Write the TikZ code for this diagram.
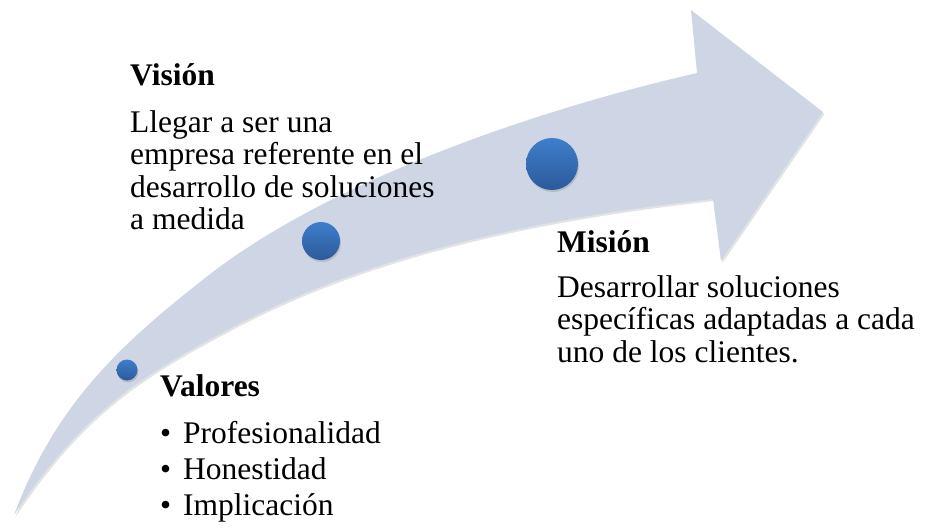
\documentclass[tikz,border=0pt]{standalone}
\usepackage{fontspec}
\setmainfont{Liberation Serif}
\usetikzlibrary{shadows}
\definecolor{bandfill}{RGB}{206,214,230}
\definecolor{dottop}{RGB}{62,126,203}
\definecolor{dotbot}{RGB}{44,90,154}
\begin{document}
\begin{tikzpicture}[x=1pt,y=-1pt,
  txt/.style={anchor=base west, inner sep=0pt, font=\fontsize{31.5}{33}\selectfont},
  ttl/.style={anchor=base west, inner sep=0pt, font=\fontsize{31.5}{33}\selectfont\bfseries},
  dot/.style={circle, inner sep=0pt, draw=none, top color=dottop, bottom color=dotbot,
    drop shadow={shadow xshift=1pt, shadow yshift=-2pt, opacity=0.3}},
  band/.style={fill=bandfill, drop shadow={shadow xshift=1.5pt, shadow yshift=-2pt, opacity=0.22}}]
\useasboundingbox (0,0) rectangle (926,530);

% curved arrow
\fill[band] (14,515) .. controls (55,405) and (120,345) .. (200,282)
  .. controls (320,184.8) and (527,112) .. (697,73)
  -- (691,10) -- (823,112) -- (721,261) -- (713,199)
  .. controls (543,217.7) and (373,252.8) .. (233,327)
  .. controls (143,374.7) and (84,410) .. (14,515) -- cycle;

% dots
\node[dot, minimum size=21] (d1) at (127,370) {};
\node[dot, minimum size=38] (d2) at (321,241) {};
\node[dot, minimum size=52] (d3) at (552,164) {};

% Vision
\node[ttl] (vt) at (130,85) {Visión};
\node[txt] (v1) at (130,132) {Llegar a ser una};
\node[txt] (v2) at (130,164.5) {empresa referente en el};
\node[txt] (v3) at (130,197) {desarrollo de soluciones};
\node[txt] (v4) at (130,229.5) {a medida};

% Mision
\node[ttl] (mt) at (557,252) {Misión};
\node[txt] (m1) at (557,297) {Desarrollar soluciones};
\node[txt] (m2) at (557,329.5) {específicas adaptadas a cada};
\node[txt] (m3) at (557,362) {uno de los clientes.};

% Valores
\node[ttl] (vat) at (160,396) {Valores};
\node[txt] (bu1) at (160,443) {•};
\node[txt] (p1) at (183,443) {Profesionalidad};
\node[txt] (bu2) at (160,479) {•};
\node[txt] (p2) at (183,479) {Honestidad};
\node[txt] (bu3) at (160,515) {•};
\node[txt] (p3) at (183,515) {Implicación};
\end{tikzpicture}
\end{document}
